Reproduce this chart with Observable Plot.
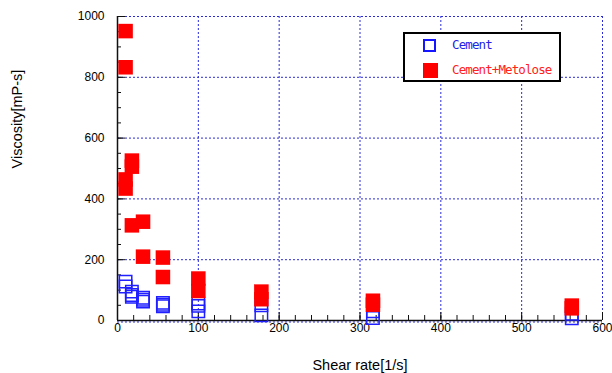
<!DOCTYPE html>
<html>
<head>
<meta charset="utf-8">
<script src="https://cdn.jsdelivr.net/npm/d3@7"></script>
<script src="https://cdn.jsdelivr.net/npm/@observablehq/plot@0.6"></script>
<style>
  html, body { margin: 0; padding: 0; background: #fff; }
  #wrap { position: relative; width: 612px; height: 373px; }
  #legend { position: absolute; left: 403px; top: 32px; width: 154px; height: 46px;
    border: 2px solid #000; background: #fff; font-family: "DejaVu Sans Mono", monospace;
    font-size: 12.5px; letter-spacing: -0.9px; }
  .sw { position: absolute; width: 13px; height: 13px; box-sizing: border-box; }
  .lab { position: absolute; white-space: nowrap; line-height: 14px; }
</style>
</head>
<body>
<div id="wrap"></div>
<script>
// Shear rate values (1/s) and viscosities (mPa-s)
const cementX = [10, 10, 17.8, 17.8, 17.8, 31.6, 31.6, 31.6, 56.2, 56.2, 56.2, 100, 100, 100, 178, 178, 316, 316, 562, 562];
const cementY = [128, 112, 95, 84, 78, 75, 68, 62, 58, 52, 47, 56, 48, 30, 50, 17, 30, 8, 22, 7];
const metoloseX = [10, 10, 10, 10, 17.8, 17.8, 17.8, 31.6, 31.6, 56.2, 56.2, 100, 100, 178, 178, 316, 316, 562, 562];
const metoloseY = [952, 833, 464, 434, 526, 506, 313, 325, 210, 207, 143, 138, 97, 95, 70, 65, 52, 49, 40];

const xTickLabels = [0, 100, 200, 300, 400, 500, 600];
const yTickLabels = [0, 200, 400, 600, 800, 1000];
const xMinorTicks = d3.range(0, 601, 20);
const yMinorTicks = d3.range(0, 1001, 50);
const xGridLines = [100, 200, 300, 400, 500, 600];
const yGridLines = [200, 400, 600, 800, 1000];
const seriesNames = ["Cement", "Cement+Metolose"];
const xTitle = "Shear rate[1/s]";
const yTitle = "Viscosity[mP-s]";

const cement = cementX.map((x, i) => ({x, y: cementY[i]}));
const metolose = metoloseX.map((x, i) => ({x, y: metoloseY[i]}));

const gridStyle = {stroke: "#2a2ad8", strokeOpacity: 1, strokeWidth: 1, strokeDasharray: "2,2"};
const axisColor = "#111";

const chart = Plot.plot({
  width: 612,
  height: 373,
  marginLeft: 117,
  marginRight: 10,
  marginTop: 16,
  marginBottom: 53,
  style: {fontFamily: "'Liberation Sans', Arial, sans-serif", fontSize: "12px", background: "#fff", color: "#000", overflow: "visible"},
  x: {domain: [0, 600]},
  y: {domain: [0, 1000]},
  marks: [
    Plot.gridX(xGridLines, gridStyle),
    Plot.gridY(yGridLines, gridStyle),
    Plot.ruleY([0], {...gridStyle, dy: 1.5}),
    Plot.ruleX([0], {stroke: axisColor, strokeWidth: 1.5}),
    Plot.ruleY([0], {stroke: axisColor, strokeWidth: 1.5}),
    Plot.ruleX(xMinorTicks, {x: d => d, y1: 0, y2: 0, insetBottom: 5, stroke: axisColor}),
    Plot.ruleX(xTickLabels, {x: d => d, y1: 0, y2: 0, insetBottom: 8, stroke: axisColor}),
    Plot.ruleY(yMinorTicks, {y: d => d, x1: 0, x2: 0, insetRight: -4, stroke: axisColor}),
    Plot.ruleY(yTickLabels, {y: d => d, x1: 0, x2: 0, insetRight: -8, stroke: axisColor}),
    Plot.axisX({ticks: xTickLabels, tickSize: 0, tickPadding: 3, tickFormat: d => String(d), label: null, fontSize: 12}),
    Plot.axisY({ticks: yTickLabels, tickSize: 0, tickPadding: 13, tickFormat: d => String(d), label: null, fontSize: 12}),
    Plot.dot(cement, {x: "x", y: "y", symbol: "square", r: 7, stroke: "#1f1fff", strokeWidth: 1.5, fill: "none"}),
    Plot.dot(metolose, {x: "x", y: "y", symbol: "square", r: 8.2, fill: "#ff0000", stroke: "none"}),
    Plot.text([xTitle], {frameAnchor: "bottom", dy: 49, text: d => d, fontSize: 14.5, fill: "#000"}),
    Plot.text([yTitle], {frameAnchor: "left", dx: -100, rotate: -90, text: d => d, fontSize: 14.5, fill: "#000"})
  ]
});

const wrap = document.getElementById("wrap");
wrap.appendChild(chart);

const legend = document.createElement("div");
legend.id = "legend";
legend.innerHTML = `
  <div class="sw" style="left:18px; top:5px; border:2px solid #1515ff;"></div>
  <div class="lab" style="left:47px; top:4px; color:#2323e8;">${seriesNames[0]}</div>
  <div class="sw" style="left:18px; top:29px; width:15px; height:15px; background:#ff0000;"></div>
  <div class="lab" style="left:47px; top:29px; color:#ff2020;">${seriesNames[1]}</div>`;
wrap.appendChild(legend);
</script>
</body>
</html>
